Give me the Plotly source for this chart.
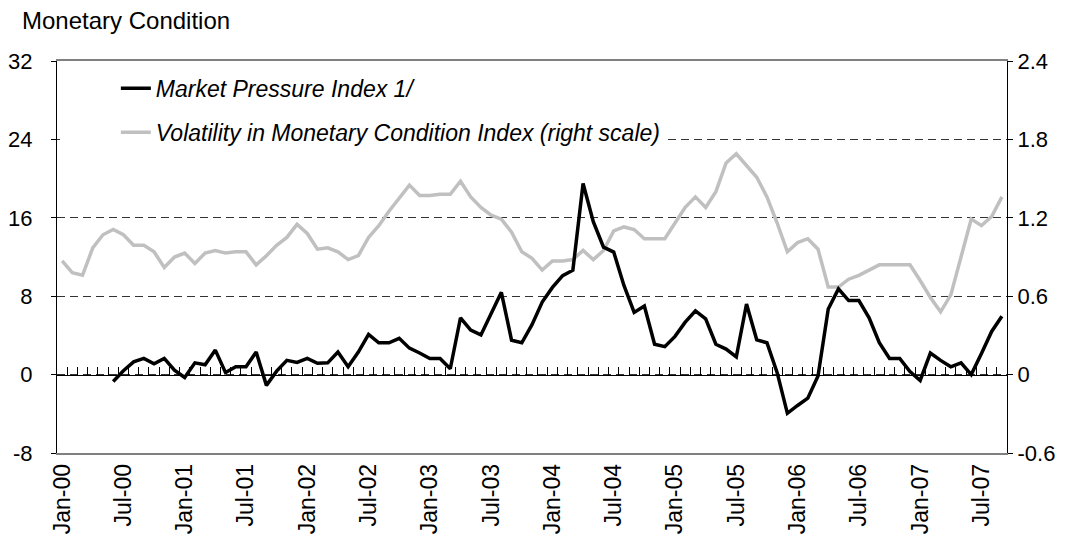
import plotly.graph_objects as go

# ---- categories ----
month_names = ["Jan", "Feb", "Mar", "Apr", "May", "Jun",
               "Jul", "Aug", "Sep", "Oct", "Nov", "Dec"]
months = [f"{m}-{y:02d}" for y in range(8) for m in month_names][:93]  # Jan-00 .. Sep-07
x_label_months = months[::6]

# ---- series ----
market_pressure = [None, None, None, None, None,
                   -0.7, 0.4, 1.3, 1.65, 1.1, 1.65, 0.45,
                   -0.3, 1.2, 1.0, 2.5, 0.2, 0.8, 0.8, 2.3, -1.1, 0.35, 1.45, 1.25,
                   1.65, 1.15, 1.2, 2.3, 0.8, 2.3, 4.1, 3.25, 3.25, 3.7, 2.7, 2.2,
                   1.65, 1.65, 0.6, 5.8, 4.55, 4.05, 6.3, 8.4, 3.5, 3.25, 5.1, 7.4,
                   8.9, 10.1, 10.65, 19.5, 15.6, 13.0, 12.5, 9.1, 6.35, 7.0, 3.1, 2.85,
                   3.9, 5.35, 6.5, 5.7, 3.1, 2.6, 1.8, 7.2, 3.55, 3.25, 0.2, -3.95,
                   -3.15, -2.4, -0.15, 6.7, 8.75, 7.55, 7.55, 5.8, 3.25, 1.65, 1.65, 0.3,
                   -0.6, 2.2, 1.45, 0.8, 1.2, 0.0, 2.15, 4.4, 5.95]

volatility = [0.87, 0.78, 0.76, 0.97, 1.07, 1.11, 1.07, 0.99, 0.99, 0.94, 0.82, 0.90,
              0.93, 0.85, 0.93, 0.95, 0.93, 0.94, 0.94, 0.84, 0.91, 0.99, 1.05, 1.15,
              1.08, 0.96, 0.97, 0.94, 0.88, 0.91, 1.05, 1.14, 1.25, 1.35, 1.45, 1.37,
              1.37, 1.38, 1.38, 1.48, 1.36, 1.28, 1.22, 1.19, 1.09, 0.94, 0.89, 0.80,
              0.87, 0.87, 0.88, 0.95, 0.88, 0.95, 1.10, 1.13, 1.11, 1.04, 1.04, 1.04,
              1.16, 1.28, 1.36, 1.28, 1.40, 1.62, 1.69, 1.60, 1.51, 1.36, 1.16, 0.94,
              1.01, 1.04, 0.96, 0.67, 0.67, 0.73, 0.76, 0.80, 0.84, 0.84, 0.84, 0.84,
              0.72, 0.59, 0.48, 0.61, 0.90, 1.19, 1.14, 1.21, 1.36]

# ---- tick labels ----
left_ticks = [-8, 0, 8, 16, 24, 32]
left_labels = ["-8", "0", "8", "16", "24", "32"]
right_ticks = [-0.6, 0, 0.6, 1.2, 1.8, 2.4]
right_labels = ["-0.6", "0", "0.6", "1.2", "1.8", "2.4"]

FONT = "Liberation Sans, Arial, sans-serif"
W, H = 1067, 542  # page body adds an 8px margin

fig = go.Figure()
# black series on the overlay subplot (x2, y2) so it is drawn above the grey one
fig.add_trace(go.Scatter(
    x=months, y=market_pressure, mode="lines",
    name="Market Pressure Index 1/", legendgroup="a",
    line=dict(color="#000000", width=3.5),
    xaxis="x2", yaxis="y2", connectgaps=False,
))
fig.add_trace(go.Scatter(
    x=months, y=volatility, mode="lines",
    name="Volatility in Monetary Condition Index (right scale)", legendgroup="b",
    line=dict(color="#c0c0c0", width=3.5),
    xaxis="x", yaxis="y",
))

n = len(months)
fig.update_layout(
    width=W, height=H,
    margin=dict(l=49, r=68, t=53, b=97, autoexpand=False),
    paper_bgcolor="white", plot_bgcolor="white",
    font=dict(family=FONT, color="black", size=22),
    showlegend=True,
    title=dict(text="Monetary Condition", x=14 / W, xref="container", xanchor="left",
               y=1 - 4 / H, yref="container", yanchor="top", pad=dict(t=0, b=0, l=0, r=0),
               font=dict(family=FONT, size=24, color="black")),
    legend=dict(x=0.003, y=0.985, xanchor="left", yanchor="top",
                bgcolor="white", borderwidth=0, indentation=56,
                tracegroupgap=11, traceorder="grouped",
                font=dict(family=FONT, size=23, style="italic", color="black")),
    xaxis=dict(
        type="category", range=[-0.5, n - 0.5], automargin=False,
        tickmode="array", tickvals=x_label_months, ticktext=x_label_months,
        tickangle=-90, ticks="", showgrid=False, zeroline=False,
        showline=True, linecolor="#808080", linewidth=1.5, mirror=True,
        tickfont=dict(family=FONT, size=23, color="black"),
        anchor="y",
    ),
    xaxis2=dict(
        type="category", range=[-0.5, n - 0.5], overlaying="x", automargin=False,
        anchor="free", position=0.2, side="bottom",
        tickmode="linear", tick0=0, dtick=1, tickson="boundaries",
        ticks="inside", ticklen=8, tickcolor="#000000", tickwidth=1,
        showticklabels=False, showgrid=False, zeroline=False,
        showline=True, linecolor="#000000", linewidth=1.2,
    ),
    yaxis=dict(
        side="right", range=[-0.6, 2.4], automargin=False,
        tickmode="array", tickvals=right_ticks, ticktext=right_labels,
        ticks="outside", ticklen=5, tickcolor="black",
        showline=True, linecolor="black", linewidth=1.2,
        showgrid=True, gridcolor="#333333", gridwidth=1, griddash="8px,5px",
        zeroline=False, anchor="x",
        tickfont=dict(family=FONT, size=22, color="black"),
    ),
    yaxis2=dict(
        side="left", overlaying="y", range=[-8, 32], automargin=False,
        tickmode="array", tickvals=left_ticks, ticktext=left_labels,
        ticks="outside", ticklen=5, tickcolor="black",
        showline=True, linecolor="black", linewidth=1.2,
        showgrid=False, zeroline=False, anchor="x2",
        ticklabelstandoff=14,
        tickfont=dict(family=FONT, size=22, color="black"),
    ),
)

fig.write_html("out.html")
